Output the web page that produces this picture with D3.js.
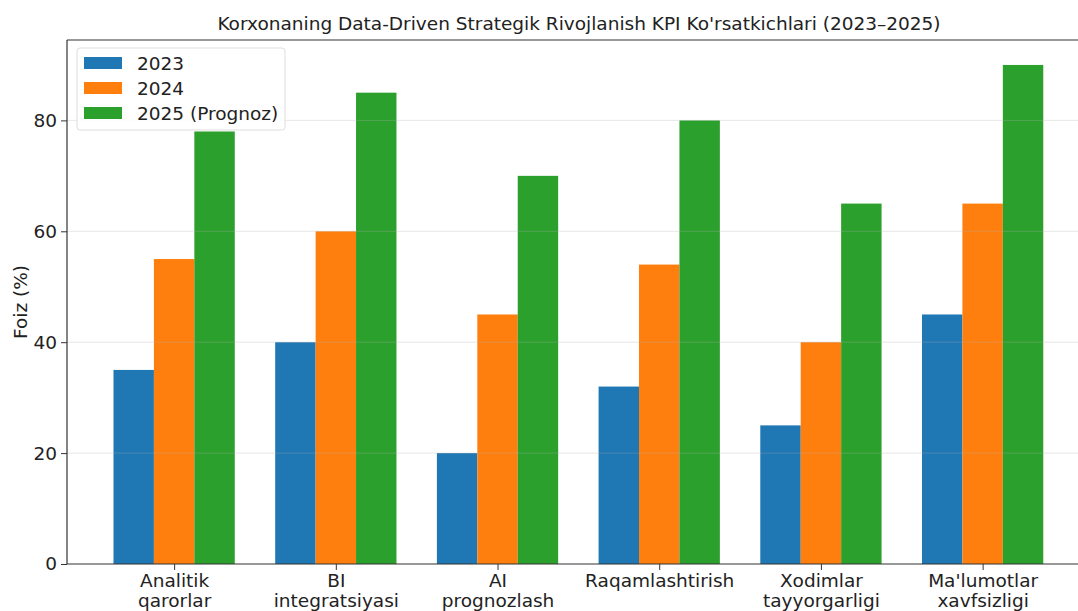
<!DOCTYPE html>
<html>
<head>
<meta charset="utf-8">
<script src="https://cdn.jsdelivr.net/npm/d3@7"></script>
<style>
  body { margin: 0; background: #fff; }
  svg { display: block; font-family: "DejaVu Sans", sans-serif; }
</style>
</head>
<body>
<svg id="chart" width="1078" height="611"></svg>
<script>
// ---------- data ----------
const categories = [
  ["Analitik", "qarorlar"],
  ["BI", "integratsiyasi"],
  ["AI", "prognozlash"],
  ["Raqamlashtirish"],
  ["Xodimlar", "tayyorgarligi"],
  ["Ma'lumotlar", "xavfsizligi"]
];
const seriesNames = ["2023", "2024", "2025 (Prognoz)"];
const values2023 = [35, 40, 20, 32, 25, 45];
const values2024 = [55, 60, 45, 54, 40, 65];
const values2025 = [78, 85, 70, 80, 65, 90];
const yTicks = [0, 20, 40, 60, 80];

const colors = ["#1f77b4", "#ff7f0e", "#2ca02c"];
const allSeries = [values2023, values2024, values2025];

// ---------- layout ----------
const svg = d3.select("#chart");
const W = 1078;
const plotLeft = 67, plotTop = 40, plotBottom = 564;
const unit = 161.7; // px per category step
const barW = 0.25;
const fs = 18.5;

const x = d3.scaleLinear().domain([-0.6625, 5.6625]).range([plotLeft, plotLeft + 6.325 * unit]);
const y = d3.scaleLinear().domain([0, 94.5]).range([plotBottom, plotTop]);

// ---------- bars ----------
allSeries.forEach((vals, s) => {
  svg.append("g").selectAll("rect")
    .data(vals)
    .enter()
    .append("rect")
      .attr("x", (d, i) => x(i + (s - 1) * barW - barW / 2))
      .attr("y", d => y(d))
      .attr("width", x(barW) - x(0))
      .attr("height", d => y(0) - y(d))
      .attr("fill", colors[s]);
});

// ---------- grid (drawn above bars like the reference) ----------
svg.append("g").selectAll("line")
  .data(yTicks.filter(d => d > 0))
  .enter()
  .append("line")
    .attr("x1", plotLeft).attr("x2", W)
    .attr("y1", d => y(d)).attr("y2", d => y(d))
    .attr("stroke", "#b0b0b0")
    .attr("stroke-opacity", 0.3)
    .attr("stroke-width", 1);

// ---------- axes ----------
const yAxis = svg.append("g")
  .attr("transform", `translate(${plotLeft},0)`)
  .call(d3.axisLeft(y).tickValues(yTicks).tickSize(6).tickPadding(4));
yAxis.select(".domain").remove();
yAxis.selectAll("line").attr("stroke", "#333");
yAxis.selectAll("text").attr("font-size", fs).attr("fill", "#222").attr("font-family", "DejaVu Sans");

const xAxis = svg.append("g")
  .attr("transform", `translate(0,${plotBottom})`)
  .call(d3.axisBottom(x).tickValues(d3.range(categories.length)).tickSize(6).tickFormat(""));
xAxis.select(".domain").remove();
xAxis.selectAll("line").attr("stroke", "#333");

xAxis.selectAll(".tick").each(function(d) {
  const t = d3.select(this).append("text")
    .attr("text-anchor", "middle")
    .attr("fill", "#222")
    .attr("font-size", fs)
    .attr("font-family", "DejaVu Sans");
  categories[d].forEach((line, k) => {
    t.append("tspan").attr("x", 0).attr("y", 23 + k * 20).text(line);
  });
});

// spines (right side is cut off in the reference)
svg.append("line").attr("x1", plotLeft).attr("x2", plotLeft).attr("y1", plotTop).attr("y2", plotBottom)
  .attr("stroke", "#333").attr("stroke-width", 1.2);
svg.append("line").attr("x1", plotLeft).attr("x2", W).attr("y1", plotBottom).attr("y2", plotBottom)
  .attr("stroke", "#333").attr("stroke-width", 1.2);
svg.append("line").attr("x1", plotLeft).attr("x2", W).attr("y1", plotTop).attr("y2", plotTop)
  .attr("stroke", "#333").attr("stroke-width", 1.2);

// ---------- labels ----------
svg.append("text")
  .attr("x", 579).attr("y", 30)
  .attr("text-anchor", "middle")
  .attr("font-size", fs)
  .attr("fill", "#222")
  .text("Korxonaning Data-Driven Strategik Rivojlanish KPI Ko'rsatkichlari (2023\u20132025)");

svg.append("text")
  .attr("transform", `translate(27,${(plotTop + plotBottom) / 2}) rotate(-90)`)
  .attr("text-anchor", "middle")
  .attr("font-size", fs)
  .attr("fill", "#222")
  .text("Foiz (%)");

// ---------- legend ----------
const legend = svg.append("g").attr("transform", "translate(77,48)");
legend.append("rect")
  .attr("width", 208).attr("height", 82)
  .attr("rx", 3)
  .attr("fill", "#fff").attr("fill-opacity", 0.9)
  .attr("stroke", "#ddd");

legend.selectAll("rect.key")
  .data(seriesNames)
  .enter()
  .append("rect")
    .attr("class", "key")
    .attr("x", 7)
    .attr("y", (d, i) => 9 + i * 25)
    .attr("width", 38)
    .attr("height", 12)
    .attr("fill", (d, i) => colors[i]);

legend.selectAll("text")
  .data(seriesNames)
  .enter()
  .append("text")
    .attr("x", 60)
    .attr("y", (d, i) => 21.5 + i * 25)
    .attr("font-size", fs)
    .attr("fill", "#222")
    .text(d => d);
</script>
</body>
</html>
